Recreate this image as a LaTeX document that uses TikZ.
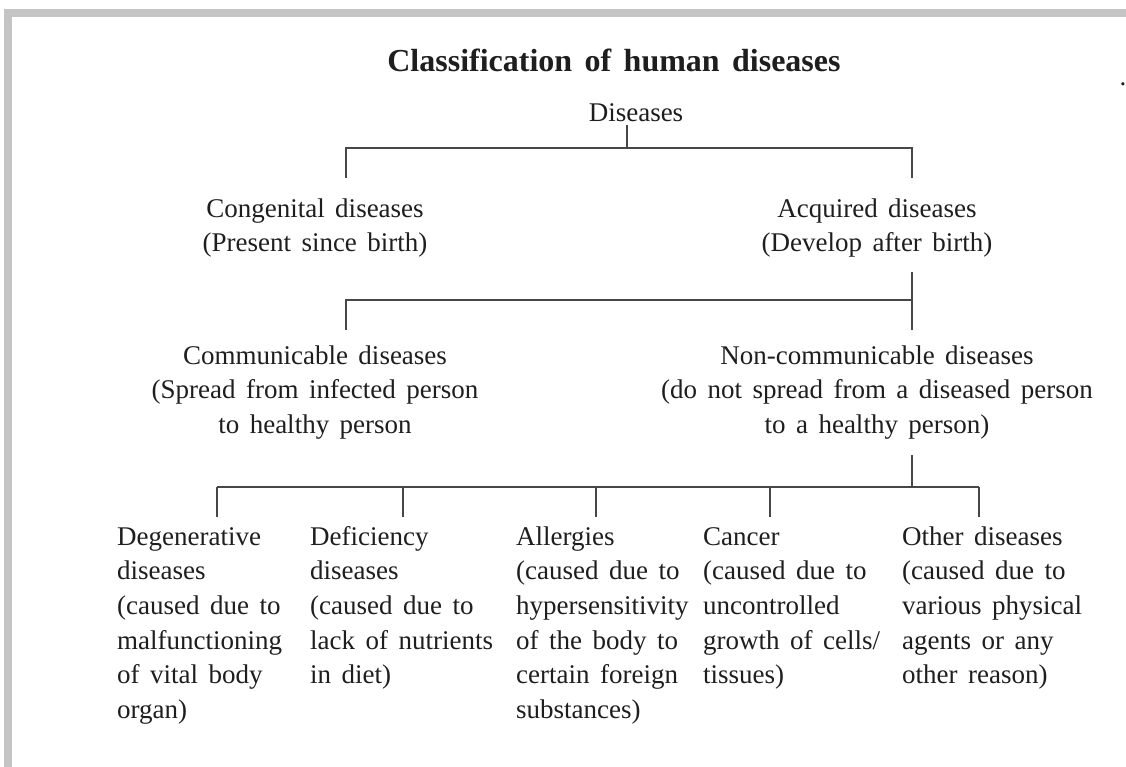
\documentclass[tikz,border=0pt]{standalone}
\usepackage{fontspec}
\setmainfont{Liberation Serif}[WordSpace=1.55]
\definecolor{framegray}{HTML}{C4C4C4}
\definecolor{linegray}{HTML}{474747}
\definecolor{txt}{HTML}{1E1E1E}
\newcommand{\bodyfont}{\fontsize{27}{34.6}\selectfont}
\tikzset{
  conn/.style={draw=linegray, line width=1.7pt},
  ctext/.style={anchor=north, inner sep=0pt, align=center, font=\bodyfont, text=txt},
  ltext/.style={anchor=north west, inner sep=0pt, align=left, font=\bodyfont, text=txt},
}
\begin{document}
\begin{tikzpicture}[x=1pt,y=1pt]
\useasboundingbox (0,0) rectangle (1126,-767);
% frame
\fill[framegray] (4,-9) rectangle (1126,-17);
\fill[framegray] (4,-9) rectangle (12,-767);
% title
\node[anchor=base, inner sep=0pt, font=\fontsize{32}{38}\selectfont\bfseries, text=txt] (title) at (614,-72) {Classification of human diseases};
\node[anchor=base, inner sep=0pt, font=\bodyfont, text=txt] (dot) at (1123,-86) {.};
% level nodes (north = baseline - 24.2)
\node[ctext] (dis) at (636,-96.8) {\strut Diseases};
\node[ctext] (cong) at (315,-192.8) {\strut Congenital diseases\\(Present since birth)};
\node[ctext] (acq) at (877,-192.8) {\strut Acquired diseases\\(Develop after birth)};
\node[ctext] (comm) at (315,-339.8) {\strut Communicable diseases\\(Spread from infected person\\to healthy person};
\node[ctext] (ncomm) at (877,-339.8) {\strut Non-communicable diseases\\(do not spread from a diseased person\\to a healthy person)};
% bottom columns
\node[ltext] (deg) at (117,-520.8) {\strut Degenerative\\diseases\\(caused due to\\malfunctioning\\of vital body\\organ)};
\node[ltext] (def) at (310,-520.8) {\strut Deficiency\\diseases\\(caused due to\\lack of nutrients\\in diet)};
\node[ltext] (all) at (516,-520.8) {\strut Allergies\\(caused due to\\hypersensitivity\\of the body to\\certain foreign\\substances)};
\node[ltext] (can) at (703,-520.8) {\strut Cancer\\(caused due to\\uncontrolled\\growth of cells/\\tissues)};
\node[ltext] (oth) at (902,-520.8) {\strut Other diseases\\(caused due to\\various physical\\agents or any\\other reason)};
% junction coordinates
\coordinate (d0) at (627,-125);
\coordinate (d1) at (627,-148);
\coordinate (cL) at (346,-148);
\coordinate (cR) at (912,-148);
\coordinate (cLb) at (346,-178);
\coordinate (cRb) at (912,-178);
\coordinate (a0) at (912,-272);
\coordinate (a1) at (912,-300);
\coordinate (a2) at (346,-300);
\coordinate (a3) at (346,-330);
\coordinate (a4) at (912,-330);
\coordinate (n0) at (912,-455);
\coordinate (n1) at (912,-487);
\coordinate (h1) at (217,-487);
\coordinate (h2) at (403,-487);
\coordinate (h3) at (596,-487);
\coordinate (h4) at (770,-487);
\coordinate (h5) at (979,-487);
\coordinate (b1) at (217,-517);
\coordinate (b2) at (403,-517);
\coordinate (b3) at (596,-517);
\coordinate (b4) at (770,-517);
\coordinate (b5) at (979,-517);
% connectors
\draw[conn] (d0) -- (d1);
\draw[conn] (cLb) -- (cL) -- (cR) -- (cRb);
\draw[conn] (a0) -- (a4);
\draw[conn] (a1) -- (a2) -- (a3);
\draw[conn] (n0) -- (n1);
\draw[conn] (h1) -- (h5);
\draw[conn] (h1) -- (b1);
\draw[conn] (h2) -- (b2);
\draw[conn] (h3) -- (b3);
\draw[conn] (h4) -- (b4);
\draw[conn] (h5) -- (b5);
\end{tikzpicture}
\end{document}
